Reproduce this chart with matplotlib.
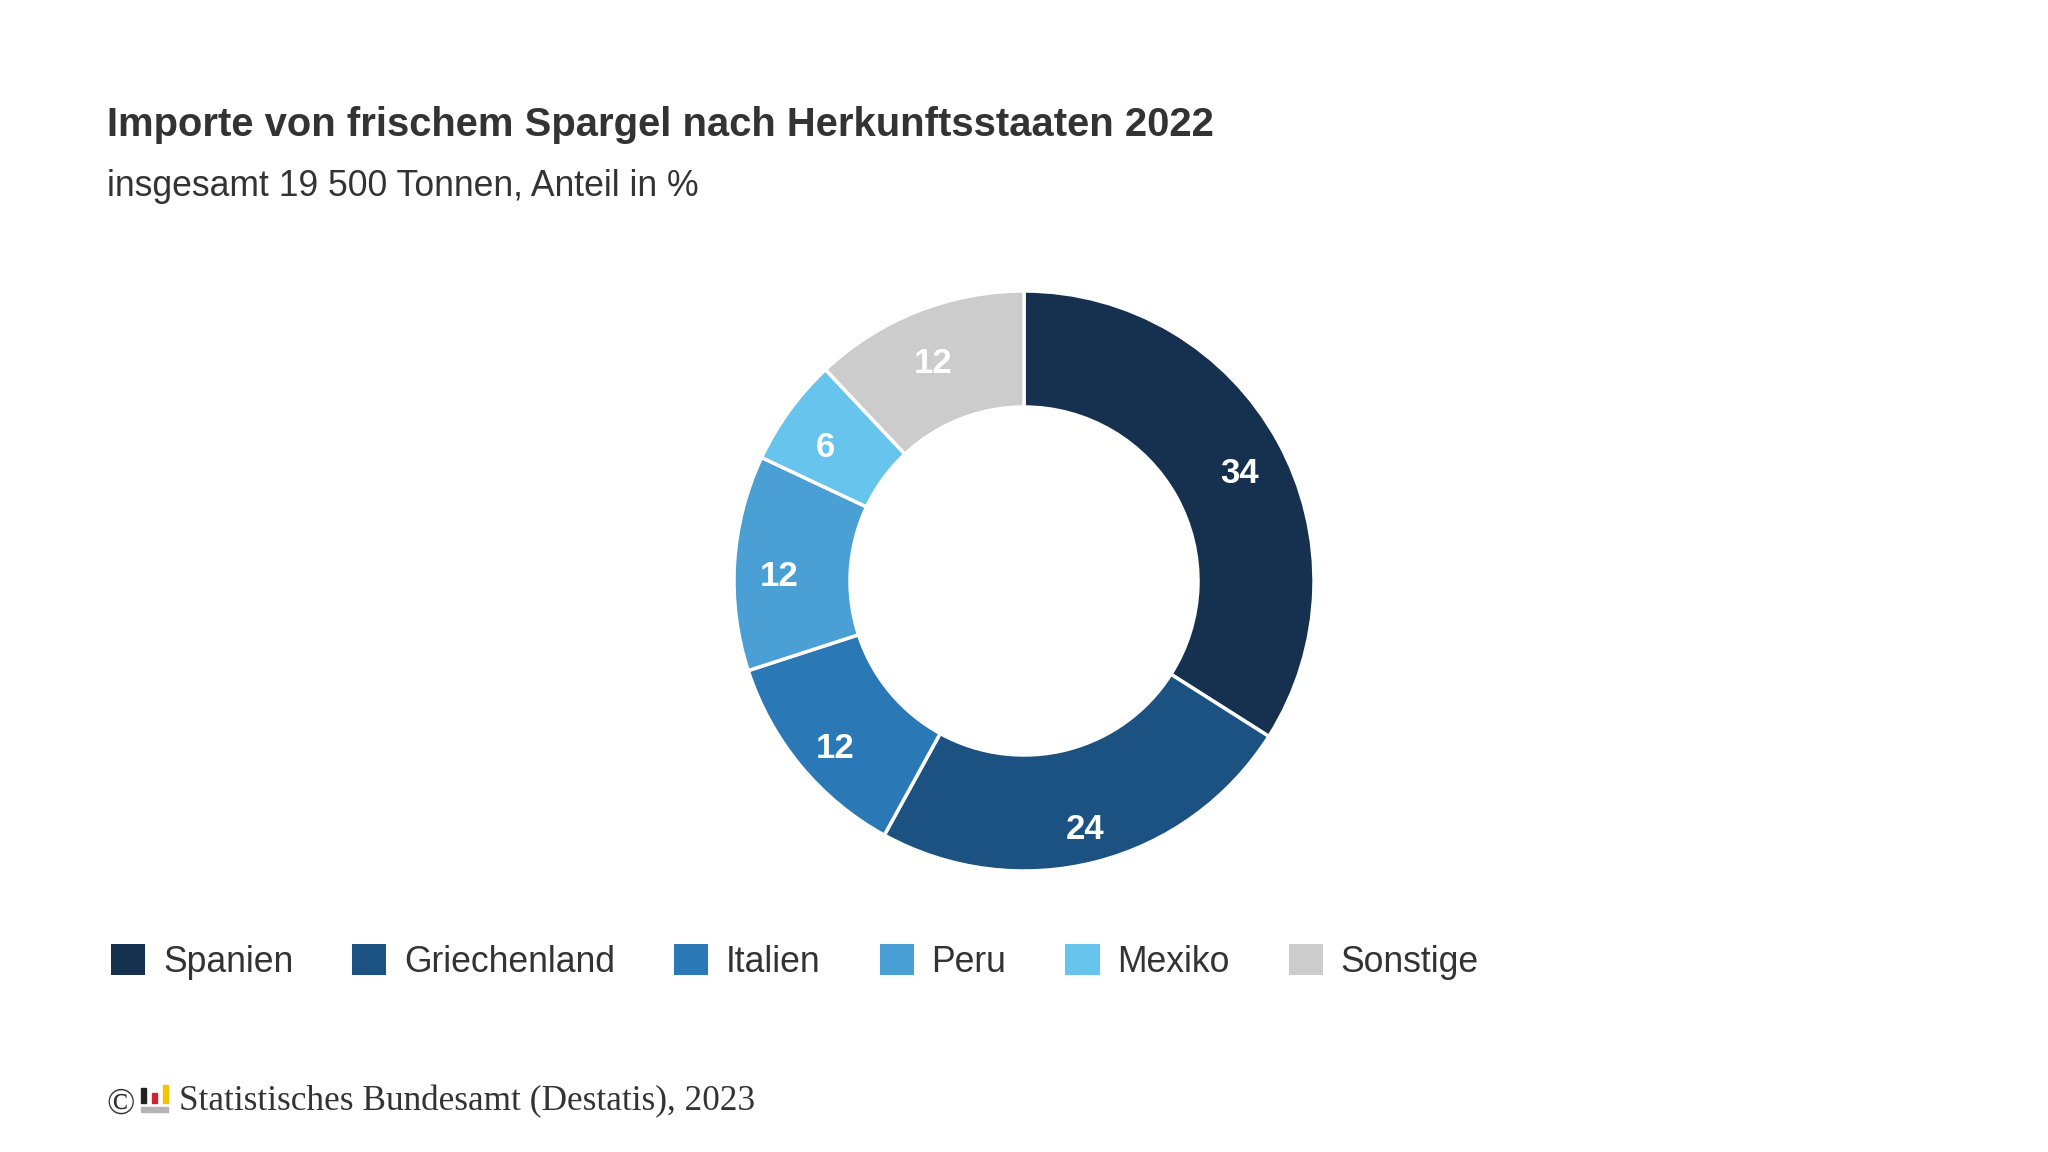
import numpy as np
import matplotlib.pyplot as plt
from matplotlib.patches import Patch, Rectangle
from matplotlib.transforms import offset_copy

countries = ['Spanien', 'Griechenland', 'Italien', 'Peru', 'Mexiko', 'Sonstige']
shares = [34, 24, 12, 12, 6, 12]
colors = ['#163150', '#1c5282', '#2a78b6', '#4a9fd5', '#67c4ec', '#cccccc']

plt.rcParams['font.family'] = ['Liberation Sans', 'DejaVu Sans']
txt = '#333333'

W, H = 2048, 1152
fig = plt.figure(figsize=(W / 100, H / 100), dpi=100)

fig.text(107 / W, 1 - 125 / H, 'Importe von frischem Spargel nach Herkunftsstaaten 2022',
         fontsize=28.8, fontweight='bold', color=txt, va='center', ha='left')
fig.text(107 / W, 1 - 186 / H, 'insgesamt 19 500 Tonnen, Anteil in %',
         fontsize=25.6, color=txt, va='center', ha='left')

# donut
cx, cy, r = 1024, 581, 290
ax = fig.add_axes([(cx - r) / W, (H - cy - r) / H, 2 * r / W, 2 * r / H])
ax.pie(shares, colors=colors, startangle=90, counterclock=False, radius=1,
       wedgeprops=dict(width=0.4, edgecolor='white', linewidth=2.5))
lab_tr = offset_copy(ax.transData, fig=fig, x=0, y=-11, units='dots')
ang0 = 90.0
for v in shares:
    mid = np.deg2rad(ang0 - v / 100 * 360 / 2)
    ax.text(0.847 * np.cos(mid), 0.847 * np.sin(mid), str(v), color='white',
            fontsize=25, fontweight='bold', ha='center', va='center', transform=lab_tr)
    ang0 -= v / 100 * 360
ax.set_xlim(-1, 1)
ax.set_ylim(-1, 1)
ax.set_aspect('equal')
ax.axis('off')

handles = [Patch(facecolor=c, edgecolor='none', label=n) for c, n in zip(colors, countries)]
fig.legend(handles=handles, loc='center left', bbox_to_anchor=(111 / W, 1 - 962 / H),
           ncol=6, frameon=False, fontsize=25.6, handlelength=0.96, handleheight=0.96,
           handletextpad=0.5, columnspacing=1.66, borderpad=0, borderaxespad=0,
           labelcolor=txt)

# footer
fig.text(106 / W, 1 - 1104 / H, '©', fontsize=27, family='Liberation Serif', color=txt,
         va='center', ha='left')
for x0, y0, h, c in [(141, 1088, 15, '#222222'), (152, 1093, 10, '#d2232a'),
                     (163, 1085, 18, '#f5c400')]:
    fig.add_artist(Rectangle((x0 / W, (H - y0 - h) / H), 5 / W, h / H,
                             transform=fig.transFigure, color=c))
fig.add_artist(Rectangle((141 / W, (H - 1112) / H), 27 / W, 5 / H,
                         transform=fig.transFigure, color='#b4b4b4'))
fig.text(179 / W, 1 - 1102 / H, 'Statistisches Bundesamt (Destatis), 2023', fontsize=25.4,
         family='Liberation Serif', color=txt, va='center', ha='left')

fig.savefig('out.png', dpi=100, facecolor='white')
